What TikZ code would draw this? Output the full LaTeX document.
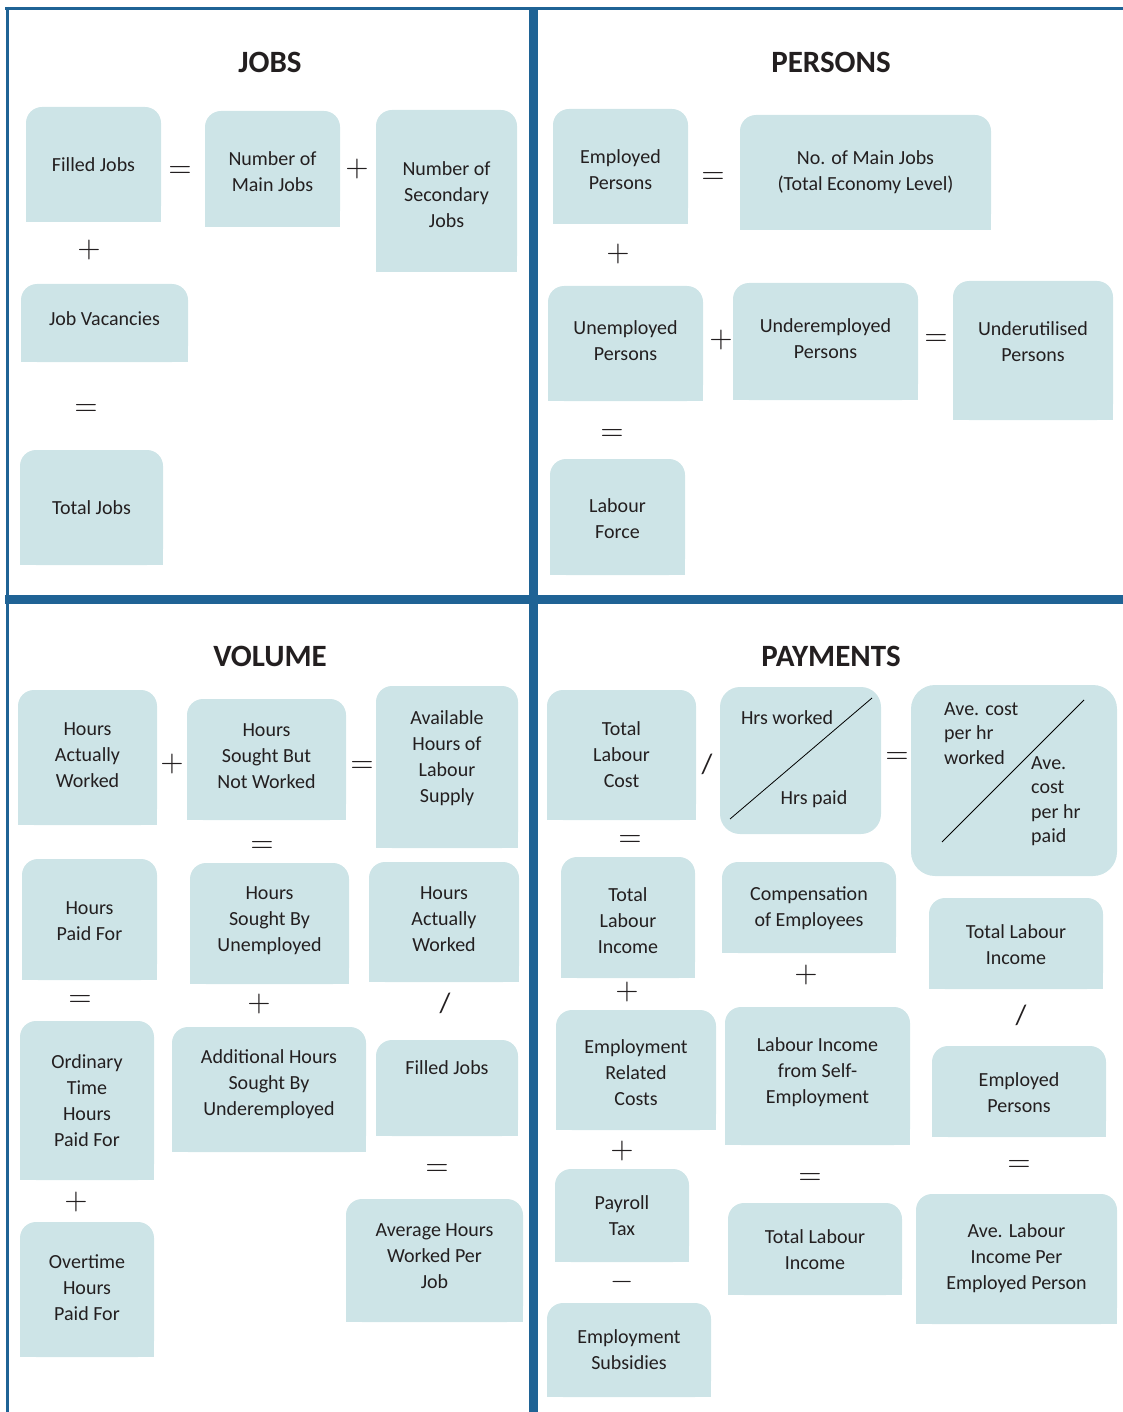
\documentclass[tikz,border=0pt]{standalone}
\usepackage{fontspec}
\setmainfont{Carlito}
\usepackage{amsmath}
\usetikzlibrary{positioning}

\definecolor{cellfill}{RGB}{205,228,231}
\definecolor{frameblue}{RGB}{31,99,149}
\definecolor{textdark}{RGB}{35,31,32}

\tikzset{
  cell/.style={align=center, inner sep=0pt, text=textdark, font=\fontsize{20}{26}\selectfont},
  op/.style={inner sep=0pt, text=textdark, scale=3},
  eqop/.style={op, yshift=-1pt},
  slash/.style={inner sep=0pt, text=textdark, font=\fontsize{28}{28}\selectfont},
  quadtitle/.style={inner sep=0pt, text=textdark, font=\fontsize{31}{31}\selectfont\bfseries},
  quadframe/.style={frameblue, line width=3pt},
  quaddivider/.style={frameblue, line width=9pt}
}

% box with rounded top and square bottom: [text shift]{name}{left}{top}{right}{bottom}{text}
\newcommand{\cellbox}[7][0]{%
  \fill[cellfill, rounded corners=16pt] (#3,#4) rectangle (#5,#6);
  \fill[cellfill] (#3,{(#4+#6)/2}) rectangle (#5,#6);
  \node[cell, yshift=#1pt] (#2) at ({(#3+#5)/2},{(#4+#6)/2}) {#7};}

\begin{document}
\begin{tikzpicture}[x=1pt, y=-1pt]
		\useasboundingbox (0,0) rectangle (1123,1412);

		% frame
		\draw [quadframe] (5,8.5) -- (1123,8.5);
		\draw [quadframe] (7,7) -- (7,1412);
		\draw [quaddivider] (533.5,8) -- (533.5,1412);
		\draw [quaddivider] (5,599.5) -- (1123,599.5);

		% JOBS
		\node [quadtitle] (jobstitle) at (270,62) {JOBS};
		\cellbox{filled}{26}{107}{161}{222}{Filled Jobs}
		\cellbox[-3]{mainjobs}{205}{111}{340}{227}{Number of\\Main Jobs}
		\cellbox[-4]{secjobs}{376}{110}{517}{272}{Number of\\Secondary\\Jobs}
		\cellbox[4]{vacancies}{21}{284}{188}{362}{Job Vacancies}
		\cellbox{totaljobs}{20}{450}{163}{565}{Total Jobs}
		\node [eqop] (eqA) at (180,169) {$=$};
		\node [op] (plusA) at (357,169) {$+$};
		\node [op] (plusB) at (89,250) {$+$};
		\node [eqop] (eqB) at (86,407) {$=$};

		% PERSONS
		\node [quadtitle] (personstitle) at (831,62) {PERSONS};
		\cellbox[-3]{employed}{553}{109}{688}{224}{Employed\\Persons}
		\cellbox{econjobs}{740}{115}{991}{230}{No. of Main Jobs\\(Total Economy Level)}
		\cellbox[3]{unemployed}{548}{286}{703}{401}{Unemployed\\Persons}
		\cellbox[3]{underemployed}{733}{283}{918}{400}{Underemployed\\Persons}
		\cellbox[9]{underutilised}{953}{281}{1113}{420}{Underutilised\\Persons}
		\cellbox[-2]{labourforce}{550}{459}{685}{575}{Labour\\Force}
		\node [eqop] (eqC) at (713,175) {$=$};
		\node [op] (plusC) at (618,254) {$+$};
		\node [op] (plusD) at (721,340) {$+$};
		\node [eqop] (eqD) at (936,337) {$=$};
		\node [eqop] (eqE) at (612,432) {$=$};

		% VOLUME
		\node [quadtitle] (volumetitle) at (270,656) {VOLUME};
		\cellbox[2]{actualhrs}{18}{690}{157}{825}{Hours\\Actually\\Worked}
		\cellbox[3]{soughtnot}{187}{699}{346}{820}{Hours\\Sought But\\Not Worked}
		\cellbox[9]{available}{376}{686}{518}{848}{Available\\Hours of\\Labour\\Supply}
		\cellbox[-2]{paidfor}{22}{859}{157}{980}{Hours\\Paid For}
		\cellbox[3]{soughtunemp}{190}{863}{349}{984}{Hours\\Sought By\\Unemployed}
		\cellbox[3]{actualhrsB}{369}{862}{519}{982}{Hours\\Actually\\Worked}
		\cellbox{ordinary}{20}{1021}{154}{1180}{Ordinary\\Time\\Hours\\Paid For}
		\cellbox[5]{additional}{172}{1027}{366}{1152}{Additional Hours\\Sought By\\Underemployed}
		\cellbox[20]{filledB}{376}{1040}{518}{1136}{Filled Jobs}
		\cellbox[2]{overtime}{20}{1222}{154}{1357}{Overtime\\Hours\\Paid For}
		\cellbox[4]{avghours}{346}{1199}{523}{1322}{Average Hours\\Worked Per\\Job}
		\node [op] (plusE) at (172,764) {$+$};
		\node [eqop] (eqF) at (362,764) {$=$};
		\node [eqop] (eqG) at (262,844) {$=$};
		\node [eqop] (eqH) at (80,998) {$=$};
		\node [op] (plusF) at (259,1004) {$+$};
		\node [slash] (divA) at (445,1003) {/};
		\node [op] (plusG) at (76,1202) {$+$};
		\node [eqop] (eqI) at (437,1167) {$=$};

		% PAYMENTS
		\node [quadtitle] (paymentstitle) at (831,656) {PAYMENTS};
		\cellbox{labourcost}{547}{690}{696}{820}{Total\\Labour\\Cost}
		\fill [cellfill, rounded corners=20pt] (720,687) rectangle (881,834);
		\coordinate (hrsA) at (730,819);
		\coordinate (hrsB) at (872,698);
		\draw [black, line width=0.8pt] (hrsA) -- (hrsB);
		\node [cell] (hrsworked) at (787,718) {Hrs worked};
		\node [cell] (hrspaid) at (814,799) {Hrs paid};
		\fill [cellfill, rounded corners=24pt] (911,685) rectangle (1117,876);
		\coordinate (costA) at (942,842);
		\coordinate (costB) at (1084,700);
		\draw [black, line width=0.8pt] (costA) -- (costB);
		\node [cell, align=left, anchor=west, font=\fontsize{20}{24.5}\selectfont] (costworked) at (944,733.5) {Ave. cost\\per hr\\worked};
		\node [cell, align=left, anchor=west, font=\fontsize{20}{24.5}\selectfont] (costpaid) at (1031,801) {Ave.\\cost\\per hr\\paid};
		\cellbox[-3]{labourinc}{561}{857}{695}{978}{Total\\Labour\\Income}
		\cellbox[-1]{compemp}{722}{862}{896}{953}{Compensation\\of Employees}
		\cellbox[-1]{labourincB}{929}{898}{1103}{989}{Total Labour\\Income}
		\cellbox[-3]{emprelated}{556}{1010}{716}{1130}{Employment\\Related\\Costs}
		\cellbox[4]{selfemp}{725}{1007}{910}{1145}{Labour Income\\from Self-\\Employment}
		\cellbox[-1]{employedB}{932}{1046}{1106}{1137}{Employed\\Persons}
		\cellbox{payroll}{555}{1169}{689}{1262}{Payroll\\Tax}
		\cellbox[-1]{labourincC}{728}{1203}{902}{1295}{Total Labour\\Income}
		\cellbox[1]{avelabour}{916}{1194}{1117}{1324}{Ave. Labour\\Income Per\\Employed Person}
		\cellbox{subsidies}{547}{1303}{711}{1397}{Employment\\Subsidies}
		\node [slash] (divB) at (707,764) {/};
		\node [eqop] (eqJ) at (897,755) {$=$};
		\node [eqop] (eqK) at (630,838) {$=$};
		\node [op] (plusH) at (627,992) {$+$};
		\node [op] (plusI) at (806,975) {$+$};
		\node [slash] (divC) at (1021,1015) {/};
		\node [op] (plusJ) at (622,1151) {$+$};
		\node [eqop] (eqL) at (810,1176) {$=$};
		\node [eqop] (eqM) at (1019,1163) {$=$};
		\node [op] (minusA) at (622,1282) {$-$};
	\end{tikzpicture}
\end{document}
